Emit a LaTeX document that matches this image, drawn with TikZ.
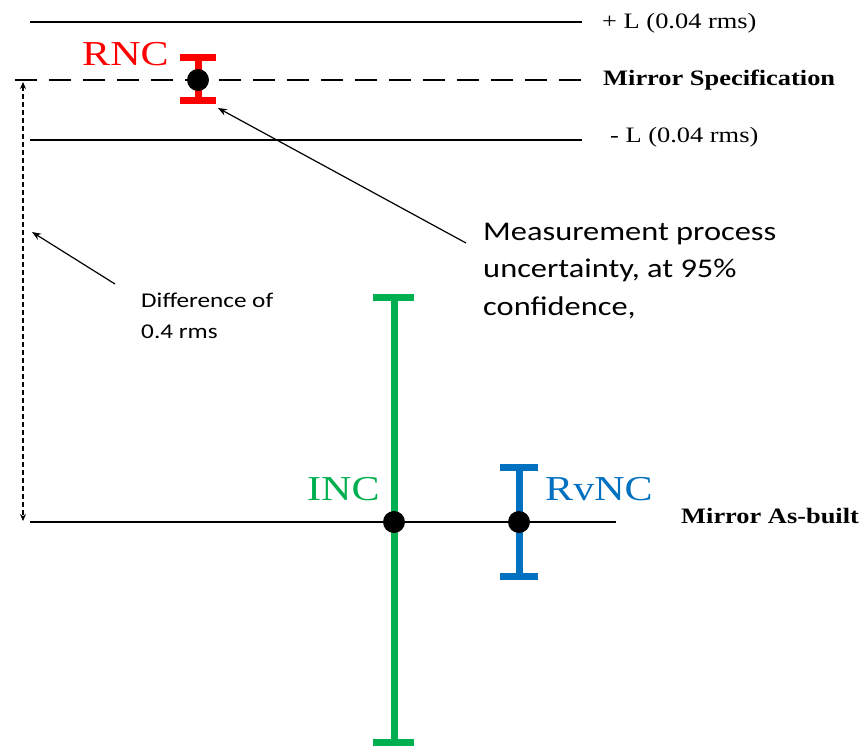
\documentclass[tikz,border=0pt]{standalone}
\usepackage{fontspec}
\setmainfont{Liberation Serif}
\newfontfamily\calib{Carlito}
\usetikzlibrary{arrows.meta}
\definecolor{rncred}{RGB}{255,0,0}
\definecolor{incgreen}{RGB}{0,176,80}
\definecolor{rvblue}{RGB}{0,112,192}
\begin{document}
\begin{tikzpicture}[x=1pt,y=-1pt,
  lvl/.style={line width=1.5pt,black},
  serif/.style={font=\fontsize{22}{26}\selectfont, anchor=base west, inner sep=0pt, xscale=1.2},
  boldlbl/.style={font=\fontsize{22}{26}\selectfont\bfseries, anchor=base west, inner sep=0pt, xscale=1.2},
  big/.style={font=\fontsize{35}{40}\selectfont, anchor=base west, inner sep=0pt, xscale=1.2},
  note/.style={font=\calib\fontsize{27}{37.5}\selectfont, align=left, anchor=base west, inner sep=0pt, xscale=1.2},
  smallnote/.style={font=\calib\fontsize{21}{31}\selectfont, align=left, anchor=base west, inner sep=0pt, xscale=1.2},
  dot/.style={circle, fill=black, minimum size=22pt, inner sep=0pt},
  ebar/.style={line width=7pt, line cap=butt},
  ptr/.style={line width=1.2pt, -{Stealth[length=9pt,width=7pt]}},
  dim/.style={line width=1.2pt, dash pattern=on 5pt off 3pt, {Stealth[length=7pt,width=6pt]}-{Stealth[length=7pt,width=6pt]}},
]
\fill[white] (0,0) rectangle (863,747);
\useasboundingbox (0,0) rectangle (863,747);

% reference levels
\coordinate (topL) at (30,22);   \coordinate (topR) at (582,22);
\coordinate (specL) at (15,80);  \coordinate (specR) at (582,80);
\coordinate (botL) at (30,140);  \coordinate (botR) at (582,140);
\coordinate (asL) at (30,522);   \coordinate (asR) at (616,522);
\draw[lvl] (topL) -- (topR);
\draw[lvl, dash pattern=on 22pt off 12pt] (specL) -- (specR);
\draw[lvl] (botL) -- (botR);
\draw[lvl] (asL) -- (asR);

\node[serif] (plusL) at (602,28) {+ L (0.04 rms)};
\node[boldlbl] (spec) at (603,85) {Mirror Specification};
\node[serif] (minusL) at (610,142) {- L (0.04 rms)};
\node[boldlbl] (asbuilt) at (681,523) {Mirror As-built};

% RNC error bar
\draw[ebar, rncred] (198,57) -- (198,100);
\draw[ebar, rncred] (180,57) -- (216,57);
\draw[ebar, rncred] (180,100) -- (216,100);
\node[dot] (rnc) at (198,80) {};
\node[big, text=rncred] (rnclbl) at (82,65) {RNC};

% INC error bar
\draw[ebar, incgreen] (394,297) -- (394,742);
\draw[ebar, incgreen] (373,297) -- (414,297);
\draw[ebar, incgreen] (373,742) -- (414,742);
\node[dot] (inc) at (394,522) {};
\node[big, text=incgreen] (inclbl) at (307,500) {INC};

% RvNC error bar
\draw[ebar, rvblue] (519,467) -- (519,576);
\draw[ebar, rvblue] (500,467) -- (538,467);
\draw[ebar, rvblue] (500,576) -- (538,576);
\node[dot] (rvnc) at (519,522) {};
\node[big, text=rvblue] (rvnclbl) at (545,500) {RvNC};

% dimension arrow
\coordinate (dimT) at (23,82);
\coordinate (dimB) at (23,521);
\draw[dim] (dimT) -- (dimB);

% annotations
\node[note] (meas) at (483,315) {Measurement process\\uncertainty, at 95\%\\confidence,};
\coordinate (measS) at (466,243);
\coordinate (rncT) at (218,108);
\draw[ptr] (measS) -- (rncT);

\node[smallnote] (diff) at (141,338) {Difference of\\0.4 rms};
\coordinate (diffS) at (115,284);
\coordinate (dimP) at (32,232);
\draw[ptr] (diffS) -- (dimP);
\end{tikzpicture}
\end{document}
